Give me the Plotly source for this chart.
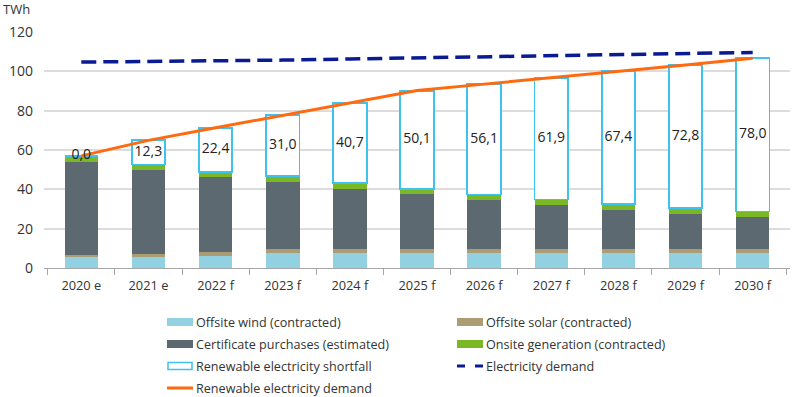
import plotly.graph_objects as go

years = ["2020 e", "2021 e", "2022 f", "2023 f", "2024 f", "2025 f", "2026 f", "2027 f", "2028 f", "2029 f", "2030 f"]
offsite_wind = [5.6, 5.8, 6.3, 7.6, 7.6, 7.6, 7.6, 7.6, 7.6, 7.6, 7.6]
offsite_solar = [0.8, 1.5, 1.9, 1.9, 1.9, 1.9, 1.9, 1.9, 1.9, 1.9, 1.9]
certificates = [47.6, 42.6, 38.0, 34.3, 30.9, 27.9, 25.0, 22.4, 20.2, 18.2, 16.2]
onsite = [3.0, 2.7, 2.7, 2.9, 2.7, 2.7, 2.9, 2.9, 2.9, 2.7, 3.0]
shortfall = [0.0, 12.3, 22.4, 31.0, 40.7, 50.1, 56.1, 61.9, 67.4, 72.8, 78.0]
electricity_demand = [104.7, 105.0, 105.2, 105.7, 106.3, 106.8, 107.4, 107.9, 108.5, 109.0, 109.6]

supply_total = [w + s + c + o for w, s, c, o in zip(offsite_wind, offsite_solar, certificates, onsite)]
renewable_demand = [t + sf for t, sf in zip(supply_total, shortfall)]
label_pos = [t + sf / 2 for t, sf in zip(supply_total, shortfall)]
label_text = [f"{v:.1f}".replace(".", ",") for v in shortfall]

FONT = "Open Sans"
TXT = "#333333"
C_WIND, C_SOLAR, C_CERT, C_ONSITE = "#92D1E1", "#AB9C74", "#5C6970", "#7AB826"
C_SHORT, C_ELEC, C_REN = "#3EC3EE", "#0A1A90", "#FF6A10"

W, H = 800, 397
L, R, T, B = 44, 790, 32, 268  # plot area in pixels

def px(x):
    return (x - L) / (R - L)

def py(y):
    return (B - y) / (B - T)

fig = go.Figure()

def bar(name, vals, color, line=None):
    fig.add_trace(go.Bar(
        x=years, y=vals, name=name,
        marker=dict(color=color, line=line or dict(width=0)),
        hoverinfo="y+name",
    ))

bar("Offsite wind (contracted)", offsite_wind, C_WIND)
bar("Offsite solar (contracted)", offsite_solar, C_SOLAR)
bar("Certificate purchases (estimated)", certificates, C_CERT)
bar("Onsite generation (contracted)", onsite, C_ONSITE)
bar("Renewable electricity shortfall", shortfall, "#FFFFFF", line=dict(color=C_SHORT, width=1.8))

fig.add_trace(go.Scatter(
    x=years, y=electricity_demand, mode="lines", name="Electricity demand",
    line=dict(color=C_ELEC, width=3.5, dash="15px,7px"),
))
fig.add_trace(go.Scatter(
    x=years, y=renewable_demand, mode="lines", name="Renewable electricity demand",
    line=dict(color=C_REN, width=3),
))
fig.add_trace(go.Scatter(
    x=years, y=label_pos, mode="text", text=label_text,
    textfont=dict(family=FONT, size=14, color="#222222"), hoverinfo="skip",
))

# manual legend (two columns)
legend_items = [
    ("Offsite wind (contracted)", "rect", C_WIND, 0, 322),
    ("Offsite solar (contracted)", "rect", C_SOLAR, 1, 322),
    ("Certificate purchases (estimated)", "rect", C_CERT, 0, 344),
    ("Onsite generation (contracted)", "rect", C_ONSITE, 1, 344),
    ("Renewable electricity shortfall", "box", C_SHORT, 0, 366),
    ("Electricity demand", "dash", C_ELEC, 1, 366),
    ("Renewable electricity demand", "line", C_REN, 0, 388),
]
col_x = [167, 457]
shapes = []
annotations = []
for label, kind, color, col, yy in legend_items:
    x0 = col_x[col]
    x1 = x0 + 26
    if kind == "rect":
        shapes.append(dict(type="rect", xref="paper", yref="paper", x0=px(x0), x1=px(x1),
                           y0=py(yy - 4), y1=py(yy + 4), fillcolor=color, line=dict(width=0)))
    elif kind == "box":
        shapes.append(dict(type="rect", xref="paper", yref="paper", x0=px(x0 + 1), x1=px(x1 - 1),
                           y0=py(yy - 3.5), y1=py(yy + 3.5), fillcolor="white",
                           line=dict(color=color, width=1.5)))
    elif kind == "line":
        shapes.append(dict(type="line", xref="paper", yref="paper", x0=px(x0), x1=px(x1),
                           y0=py(yy), y1=py(yy), line=dict(color=color, width=3)))
    elif kind == "dash":
        for a, b in ((x0, x0 + 8), (x0 + 18, x1)):
            shapes.append(dict(type="line", xref="paper", yref="paper", x0=px(a), x1=px(b),
                               y0=py(yy), y1=py(yy), line=dict(color=color, width=3)))
    annotations.append(dict(text=label, xref="paper", yref="paper", x=px(x1 + 1), y=py(yy),
                            xanchor="left", yanchor="middle", showarrow=False,
                            font=dict(family=FONT, size=12.6, color=TXT)))

annotations.append(dict(
    text="TWh", xref="paper", yref="paper", x=px(1), y=py(9), xanchor="left",
    yanchor="middle", showarrow=False, font=dict(family=FONT, size=13, color=TXT),
))

fig.update_layout(
    width=W, height=H,
    margin=dict(l=L, r=W - R, t=T, b=H - B, autoexpand=False),
    showlegend=False,
    barmode="stack", bargap=0.5,
    plot_bgcolor="white", paper_bgcolor="white",
    font=dict(family=FONT, size=13, color=TXT),
    xaxis=dict(
        type="category", showgrid=False, showline=True, linecolor="#A6A6A6", linewidth=1,
        ticks="outside", tickson="boundaries", ticklen=6, tickcolor="#A6A6A6",
        tickfont=dict(family=FONT, size=12.8, color=TXT), automargin=False,
        ticklabelstandoff=6,
    ),
    yaxis=dict(
        range=[0, 120], dtick=20, showgrid=True, gridcolor="#DCDCDC", gridwidth=1.5,
        zeroline=False, showline=False, ticks="", automargin=False,
        tickfont=dict(family=FONT, size=14, color=TXT), ticklabelstandoff=10,
    ),
    shapes=shapes,
    annotations=annotations,
)

fig.write_html(
    "out.html",
    config={"displayModeBar": False},
    post_script="document.body.style.margin='0';document.body.style.overflow='hidden';",
)
